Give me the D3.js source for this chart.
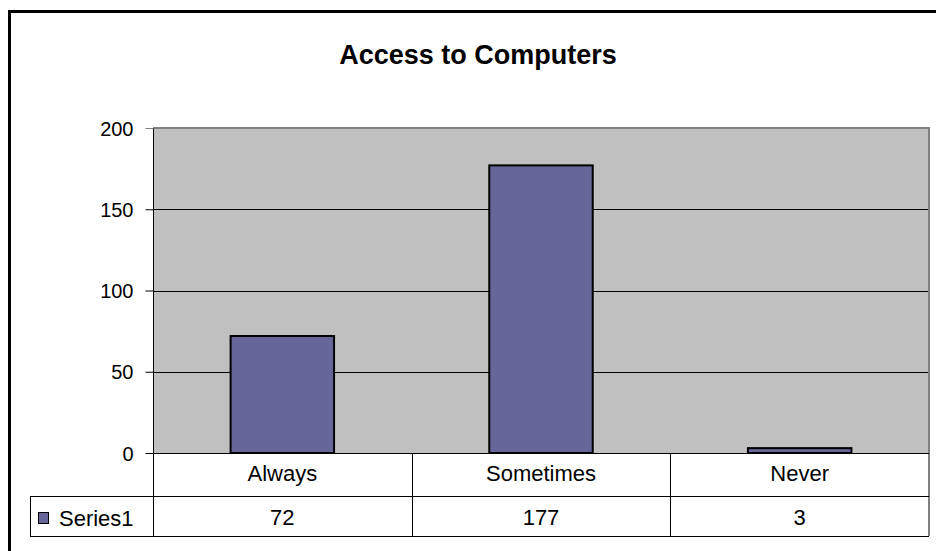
<!DOCTYPE html>
<html><head><meta charset="utf-8">
<script src="https://cdn.jsdelivr.net/npm/d3@7"></script>
<style>html,body{margin:0;padding:0;background:#fff;overflow:hidden}</style>
</head><body>
<svg id="c" width="936" height="551"></svg>
<script>
const title = "Access to Computers";
const categories = ["Always", "Sometimes", "Never"];
const values = [72, 177, 3];
const seriesName = "Series1";
const yTicks = [0, 50, 100, 150, 200];

const svg = d3.select("#c");
const font = "'Liberation Sans', Arial, sans-serif";
const L = 153, R = 929, T = 128, B = 453;
const row1 = 496, row2 = 536, keyLeft = 30;

// outer border
svg.append("rect").attr("x", 9.5).attr("y", 11.5).attr("width", 960).attr("height", 600)
  .attr("fill", "none").attr("stroke", "#000").attr("stroke-width", 3);

svg.append("text").attr("x", 478).attr("y", 64).attr("text-anchor", "middle")
  .attr("font-family", font).attr("font-weight", "bold").attr("font-size", 27).text(title);

const x = d3.scaleBand().domain(categories).range([L, R]).paddingInner(0).paddingOuter(0);
const y = d3.scaleLinear().domain([0, 200]).range([B, T]);

// plot area
svg.append("rect").attr("x", L).attr("y", T).attr("width", R - L).attr("height", B - T).attr("fill", "#C0C0C0");

// gridlines
svg.append("g").selectAll("line").data(yTicks.filter(d => d > 0 && d < 200)).join("line")
  .attr("x1", L).attr("x2", R).attr("y1", d => Math.round(y(d)) + 0.5).attr("y2", d => Math.round(y(d)) + 0.5)
  .attr("stroke", "#000").attr("stroke-width", 1);

// bars
const bw = x.bandwidth() / 2.5;
svg.append("g").selectAll("rect").data(values).join("rect")
  .attr("x", (d, i) => x(categories[i]) + (x.bandwidth() - bw) / 2)
  .attr("y", d => y(d))
  .attr("width", bw)
  .attr("height", d => B - y(d))
  .attr("fill", "#666699").attr("stroke", "#000").attr("stroke-width", 2);

// plot border top/right (gray)
svg.append("path").attr("d", `M${L},${T} H${R} V${B}`).attr("fill", "none").attr("stroke", "#808080").attr("stroke-width", 2);
svg.append("line").attr("x1", R).attr("x2", R).attr("y1", B).attr("y2", row2).attr("stroke", "#808080").attr("stroke-width", 2);

// y axis
const ya = svg.append("g").attr("transform", `translate(${L + 0.5},0)`)
  .call(d3.axisLeft(y).tickValues(yTicks).tickSize(8).tickPadding(12).tickFormat(d3.format("d")));
ya.select(".domain").attr("stroke", "#000").attr("d", `M0,${T}V${row2}`);
ya.selectAll(".tick line").attr("stroke", (d) => d === 200 ? "#808080" : "#000");
ya.selectAll(".tick text").attr("font-family", font).attr("font-size", 20).attr("fill", "#000").attr("dy", "0.36em");

// data table lines
const tg = svg.append("g").attr("stroke", "#000").attr("stroke-width", 1);
tg.append("line").attr("x1", L).attr("x2", R).attr("y1", B + 0.5).attr("y2", B + 0.5);
tg.append("line").attr("x1", keyLeft).attr("x2", R).attr("y1", row1 + 0.5).attr("y2", row1 + 0.5);
tg.append("line").attr("x1", keyLeft).attr("x2", R).attr("y1", row2 + 0.5).attr("y2", row2 + 0.5);
tg.append("line").attr("x1", keyLeft + 0.5).attr("x2", keyLeft + 0.5).attr("y1", row1).attr("y2", row2);
tg.selectAll("line.div").data(categories.slice(1)).join("line").attr("class", "div")
  .attr("x1", d => Math.round(x(d)) + 0.5).attr("x2", d => Math.round(x(d)) + 0.5)
  .attr("y1", B).attr("y2", row2);

// category labels
svg.append("g").selectAll("text").data(categories).join("text")
  .attr("x", d => x(d) + x.bandwidth() / 2).attr("y", 481)
  .attr("text-anchor", "middle").attr("font-family", font).attr("font-size", 22).text(d => d);

// values
svg.append("g").selectAll("text").data(values).join("text")
  .attr("x", (d, i) => x(categories[i]) + x.bandwidth() / 2).attr("y", 525)
  .attr("text-anchor", "middle").attr("font-family", font).attr("font-size", 22).text(d => d);

// legend key
svg.append("rect").attr("x", 38.5).attr("y", 512.5).attr("width", 10).attr("height", 11)
  .attr("fill", "#666699").attr("stroke", "#000").attr("stroke-width", 1);
svg.append("text").attr("x", 59).attr("y", 526).attr("font-family", font).attr("font-size", 22).text(seriesName);
</script>
</body></html>
